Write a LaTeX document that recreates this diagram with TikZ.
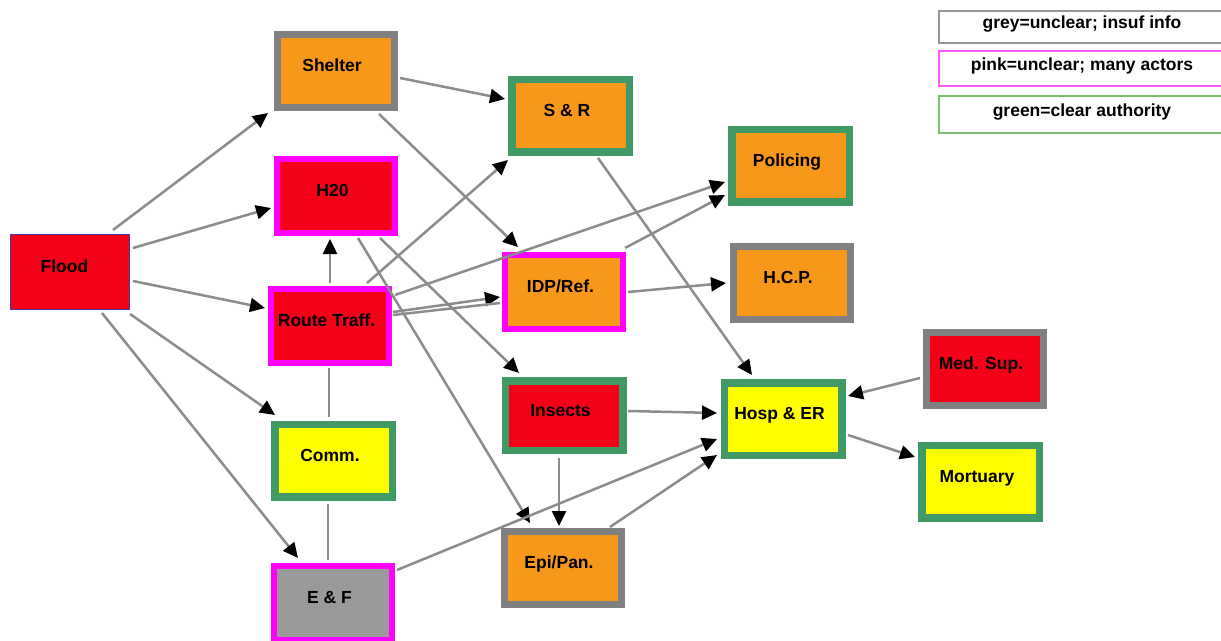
\documentclass[tikz,border=0pt]{standalone}
\usepackage{fontspec}
\setmainfont{Liberation Sans}
\usetikzlibrary{arrows.meta,calc}

\definecolor{nred}{RGB}{245,0,25}
\definecolor{norange}{RGB}{247,152,26}
\definecolor{nyellow}{RGB}{255,255,0}
\definecolor{ngrey}{RGB}{153,153,153}
\definecolor{bgrey}{RGB}{128,128,128}
\definecolor{bpink}{RGB}{255,0,255}
\definecolor{bgreen}{RGB}{65,153,101}
\definecolor{bflood}{RGB}{70,60,150}
\definecolor{edgegray}{RGB}{140,140,140}
\definecolor{lgrey}{RGB}{150,150,150}
\definecolor{lpink}{RGB}{255,90,255}
\definecolor{lgreen}{RGB}{125,190,110}

\begin{document}
\begin{tikzpicture}[x=1pt,y=-1pt,
  blk/.style={rectangle, inner sep=0pt,
    font=\fontsize{17.5}{20}\selectfont\bfseries,
    text height=13pt, text depth=11.4pt,
    execute at end node={\hspace*{7pt}}},
  greyb/.style={draw=bgrey, line width=7pt, minimum width=117pt, minimum height=73pt},
  pinkb/.style={draw=bpink, line width=6pt, minimum width=118pt, minimum height=74pt},
  greenb/.style={draw=bgreen, line width=7.5pt, minimum width=117.5pt, minimum height=72.5pt},
  legendbox/.style={rectangle, inner sep=0pt, line width=2pt, minimum width=286pt,
    font=\fontsize{17.5}{20}\selectfont\bfseries,
    text height=13pt, text depth=9.4pt},
  conn/.style={draw=edgegray, line width=2.5pt},
  arr/.style={conn, -{Triangle[length=15pt,width=14pt,color=black]}}
]
\useasboundingbox (0,0) rectangle (1221,640);
\clip (0,0) rectangle (1221,640);
\fill[white] (0,0) rectangle (1221,640);

% task nodes
\node[blk, draw=bflood, line width=1.2pt, minimum width=119pt, minimum height=75pt,
      fill=nred, execute at end node={\hspace*{4pt}}] (flood) at (70,272) {Flood};
\node[blk, greyb, fill=norange] (shelter) at (335.5,71) {Shelter};
\node[blk, pinkb, fill=nred] (h20) at (336,195.5) {H20};
\node[blk, pinkb, fill=nred] (route) at (330,326) {Route Traff.};
\node[blk, greenb, fill=nyellow] (comm) at (333.5,460.5) {Comm.};
\node[blk, pinkb, fill=ngrey] (ef) at (333,603) {E \& F};
\node[blk, greenb, fill=norange] (sr) at (570.5,115.5) {S \& R};
\node[blk, pinkb, fill=norange] (idp) at (564,292) {IDP/Ref.};
\node[blk, greenb, fill=nred, minimum height=69.5pt] (insects) at (564,415.5) {Insects};
\node[blk, greyb, fill=norange] (epi) at (562.5,568) {Epi/Pan.};
\node[blk, greenb, fill=norange] (policing) at (790.5,165.5) {Policing};
\node[blk, greyb, fill=norange] (hcp) at (791.5,283) {H.C.P.};
\node[blk, greenb, fill=nyellow] (hosp) at (783,419) {Hosp \& ER};
\node[blk, greyb, fill=nred] (medsup) at (984.5,369) {Med. Sup.};
\node[blk, greenb, fill=nyellow] (mortuary) at (980.5,481.5) {Mortuary};

% legend
\node[legendbox, draw=lgrey, minimum height=32pt] (lgrey) at (1082,26.5) {grey=unclear; insuf info};
\node[legendbox, draw=lpink, minimum height=35pt] (lpink) at (1082,68.5) {pink=unclear; many actors};
\node[legendbox, draw=lgreen, minimum height=37pt] (lgreen) at (1082,114.5) {green=clear authority};

% dependencies
\draw[arr] ($(flood)+(43,-42)$) -- ($(shelter)+(-67.5,42)$);
\draw[arr] ($(flood)+(63,-24)$) -- ($(h20)+(-65,12.5)$);
\draw[arr] ($(flood)+(63,9)$) -- ($(route)+(-65,-18)$);
\draw[arr] ($(flood)+(60,42)$) -- ($(comm)+(-58.5,-45.5)$);
\draw[arr] ($(flood)+(32,41)$) -- ($(ef)+(-35,-45)$);
\draw[arr] ($(shelter)+(64.5,7)$) -- ($(sr)+(-65.5,-16.5)$);
\draw[arr] ($(shelter)+(43.5,43)$) -- ($(idp)+(-46,-45)$);
\draw[arr] ($(route)+(0,-43)$) -- ($(h20)+(-6,43.5)$);
\draw[arr] ($(route)+(37,-43)$) -- ($(sr)+(-62.5,44.5)$);
\draw[arr] ($(route)+(65,-31)$) -- ($(policing)+(-65.5,16.5)$);
\draw[arr] ($(idp)+(61,-44)$) -- ($(policing)+(-65.5,29.5)$);
\draw[arr] ($(route)+(63,-14)$) -- ($(idp)+(-64,5)$);
\draw[conn] ($(route)+(63,-11)$) -- ($(idp)+(-64,11)$);
\draw[conn] ($(route)+(-1,42)$) -- ($(comm)+(-4.5,-43.5)$);
\draw[conn] ($(comm)+(-5.5,43.5)$) -- ($(ef)+(-5,-43)$);
\draw[arr] ($(idp)+(64,0)$) -- ($(hcp)+(-65.5,0)$);
\draw[arr] ($(sr)+(27.5,42.5)$) -- ($(hosp)+(-31,-44)$);
\draw[arr] ($(h20)+(44,42.5)$) -- ($(insects)+(-45,-42.5)$);
\draw[arr] ($(h20)+(22,42.5)$) -- ($(epi)+(-32.5,-45)$);
\draw[arr] ($(insects)+(64,-4.5)$) -- ($(hosp)+(-66,-6)$);
\draw[arr] ($(insects)+(-5,42.5)$) -- ($(epi)+(-3.5,-42)$);
\draw[arr] ($(ef)+(64,-33)$) -- ($(hosp)+(-66,20)$);
\draw[arr] ($(epi)+(47.5,-41)$) -- ($(hosp)+(-66,36)$);
\draw[arr] ($(medsup)+(-64.5,9)$) -- ($(hosp)+(65,-23)$);
\draw[arr] ($(hosp)+(65,16)$) -- ($(mortuary)+(-65.5,-24.5)$);
\end{tikzpicture}
\end{document}
